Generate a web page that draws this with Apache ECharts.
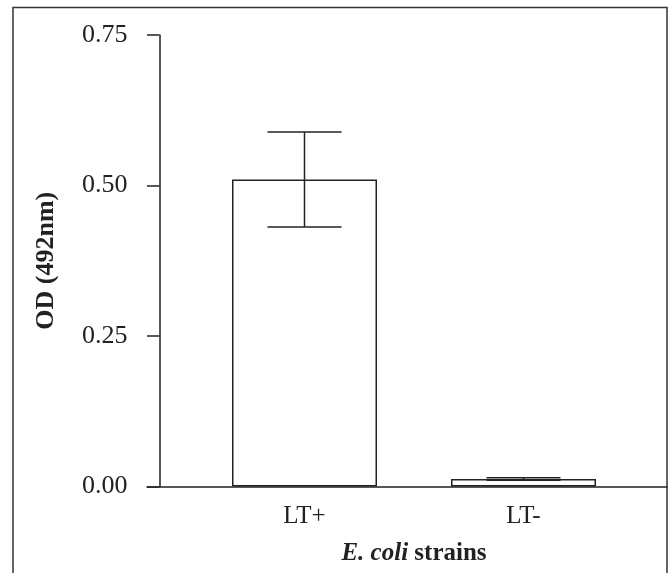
<!DOCTYPE html>
<html>
<head>
<meta charset="utf-8">
<script src="https://cdn.jsdelivr.net/npm/echarts@6/dist/echarts.min.js"></script>
<style>
html,body{margin:0;padding:0;background:#fff;}
#chart{width:670px;height:573px;}
</style>
</head>
<body>
<div id="chart"></div>
<script>
const categories = ['LT+', 'LT-'];
const odMean = [0.51, 0.0125];
const odErr = [0.079, 0.002];
const yMin = 0, yMax = 0.75, yStep = 0.25;

const FONT = 'Liberation Serif';
const INK = '#222';

const chart = echarts.init(document.getElementById('chart'));

const errData = categories.map((c, i) => [i, odMean[i] - odErr[i], odMean[i] + odErr[i]]);

chart.setOption({
  animation: false,
  backgroundColor: '#fff',
  graphic: [{
    type: 'rect',
    z: -10,
    shape: { x: 13, y: 7.5, width: 654, height: 700 },
    style: { fill: null, stroke: '#333', lineWidth: 1.5 }
  }],
  grid: [
    { left: 195, right: 37, top: 35, bottom: 86.5, outerBoundsMode: 'none', containLabel: false },
    { left: 147, right: 3, top: 35, bottom: 86.5, outerBoundsMode: 'none', containLabel: false }
  ],
  xAxis: [{
    gridIndex: 0,
    type: 'category',
    data: categories,
    axisLine: { show: false },
    axisTick: { show: false },
    axisLabel: { fontFamily: FONT, fontSize: 25, color: INK, margin: 17 },
    name: '{i|E. coli}{b| strains}',
    nameLocation: 'middle',
    nameGap: 54.5,
    nameTextStyle: {
      rich: {
        i: { fontFamily: FONT, fontSize: 25, fontWeight: 'bold', fontStyle: 'italic', color: INK },
        b: { fontFamily: FONT, fontSize: 25, fontWeight: 'bold', color: INK }
      }
    }
  }, {
    gridIndex: 1,
    type: 'value',
    min: 0, max: 1,
    axisLine: { show: true, onZero: false, lineStyle: { color: INK, width: 1.5 } },
    axisTick: { show: false },
    axisLabel: { show: false },
    splitLine: { show: false }
  }],
  yAxis: [{
    gridIndex: 0,
    type: 'value',
    min: yMin, max: yMax, interval: yStep,
    offset: 35.5,
    axisLine: { show: true, lineStyle: { color: INK, width: 1.5 } },
    axisTick: { show: true, inside: false, length: 12.5, lineStyle: { color: INK, width: 1.5 } },
    axisLabel: { fontFamily: FONT, fontSize: 26, color: INK, margin: 32, padding: [5, 0, 0, 0], formatter: v => v.toFixed(2) },
    splitLine: { show: false },
    name: 'OD (492nm)',
    nameLocation: 'middle',
    nameGap: 100,
    nameRotate: 90,
    nameTextStyle: { fontFamily: FONT, fontSize: 26, fontWeight: 'bold', color: INK }
  }, {
    gridIndex: 1,
    type: 'value',
    show: false,
    min: yMin, max: yMax
  }],
  series: [{
    type: 'bar',
    xAxisIndex: 0, yAxisIndex: 0,
    data: odMean,
    barWidth: 145,
    itemStyle: { color: '#fff', borderColor: INK, borderWidth: 1.5 }
  }, {
    type: 'custom',
    xAxisIndex: 0, yAxisIndex: 0,
    data: errData,
    z: 5,
    renderItem: function (params, api) {
      const x = api.value(0);
      const lo = api.coord([x, api.value(1)]);
      const hi = api.coord([x, api.value(2)]);
      const hw = 37;
      const st = { stroke: INK, lineWidth: 1.5 };
      return {
        type: 'group',
        children: [
          { type: 'line', shape: { x1: lo[0], y1: lo[1], x2: hi[0], y2: hi[1] }, style: st },
          { type: 'line', shape: { x1: hi[0] - hw, y1: hi[1], x2: hi[0] + hw, y2: hi[1] }, style: st },
          { type: 'line', shape: { x1: lo[0] - hw, y1: lo[1], x2: lo[0] + hw, y2: lo[1] }, style: st }
        ]
      };
    }
  }]
});
</script>
</body>
</html>
